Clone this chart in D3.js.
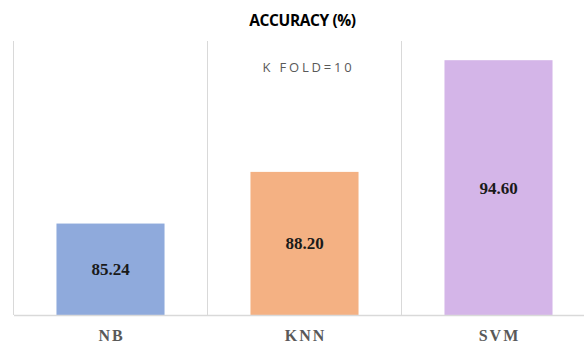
<!DOCTYPE html>
<html>
<head>
<meta charset="utf-8">
<script src="https://cdn.jsdelivr.net/npm/d3@7"></script>
<style>
  body { margin: 0; background: #fff; }
</style>
</head>
<body>
<script>
// chart data
var categories = ["NB", "KNN", "SVM"];
var accuracy = [85.24, 88.20, 94.60];
var barColors = ["#8faadc", "#f4b183", "#d4b5e8"];
var yDomain = [80, 95.7];

var width = 584, height = 343;

var svg = d3.select("body")
  .append("svg")
  .attr("width", width)
  .attr("height", height);

// plot area runs a bit past the right edge, like the original
var x = d3.scaleBand()
  .domain(categories)
  .range([13.5, 595.5])
  .paddingInner(0.443)
  .paddingOuter(0.2215);

// same bands with no padding, for the vertical gridlines
var xGrid = d3.scaleBand()
  .domain(categories)
  .range([13.5, 595.5]);

var y = d3.scaleLinear()
  .domain(yDomain)
  .range([315, 41]);

// vertical gridlines
var gridX = categories.map(function(c) { return xGrid(c); });
svg.selectAll("line.grid")
  .data(gridX)
  .enter().append("line")
  .attr("class", "grid")
  .attr("x1", function(d) { return d; })
  .attr("x2", function(d) { return d; })
  .attr("y1", y(yDomain[1]))
  .attr("y2", y(yDomain[0]))
  .attr("stroke", "#d9d9d9")
  .attr("stroke-width", 1);

// bars
svg.selectAll("rect.bar")
  .data(accuracy)
  .enter().append("rect")
  .attr("class", "bar")
  .attr("x", function(d, i) { return x(categories[i]); })
  .attr("width", x.bandwidth())
  .attr("y", function(d) { return y(d); })
  .attr("height", function(d) { return y(yDomain[0]) - y(d); })
  .style("fill", function(d, i) { return barColors[i]; });

// value labels in the middle of each bar
svg.selectAll("text.value")
  .data(accuracy)
  .enter().append("text")
  .attr("class", "value")
  .attr("x", function(d, i) { return x(categories[i]) + x.bandwidth() / 2; })
  .attr("y", function(d) { return (y(d) + y(yDomain[0])) / 2 + 6; })
  .attr("text-anchor", "middle")
  .style("font-family", "'Liberation Serif', 'Times New Roman', serif")
  .style("font-weight", "bold")
  .style("font-size", "17px")
  .style("fill", "#1a1a1a")
  .text(function(d) { return d.toFixed(2); });

// x axis with category labels
var xAxis = svg.append("g")
  .attr("transform", "translate(0," + y(yDomain[0]) + ")")
  .call(d3.axisBottom(x).tickSize(0).tickPadding(14.6));

xAxis.select(".domain")
  .attr("stroke", "#d9d9d9")
  .attr("stroke-width", 1.5);

xAxis.selectAll("text")
  .style("font-family", "'Liberation Serif', 'Times New Roman', serif")
  .style("font-weight", "bold")
  .style("font-size", "16px")
  .style("letter-spacing", "2px")
  .attr("dx", "1px")
  .style("fill", "#595959");

// title
svg.append("text")
  .attr("x", 302.5)
  .attr("y", 26)
  .attr("text-anchor", "middle")
  .style("font-family", "'Open Sans', sans-serif")
  .style("font-weight", "bold")
  .style("font-size", "15.5px")
  .style("letter-spacing", "-0.4px")
  .style("fill", "#000")
  .text("ACCURACY (%)");

// note inside the chart
svg.append("text")
  .attr("x", 308.5)
  .attr("y", 72)
  .attr("text-anchor", "middle")
  .style("font-family", "'Open Sans', sans-serif")
  .style("font-size", "13px")
  .style("letter-spacing", "2.8px")
  .style("fill", "#595959")
  .text("K FOLD=10");
</script>
</body>
</html>
